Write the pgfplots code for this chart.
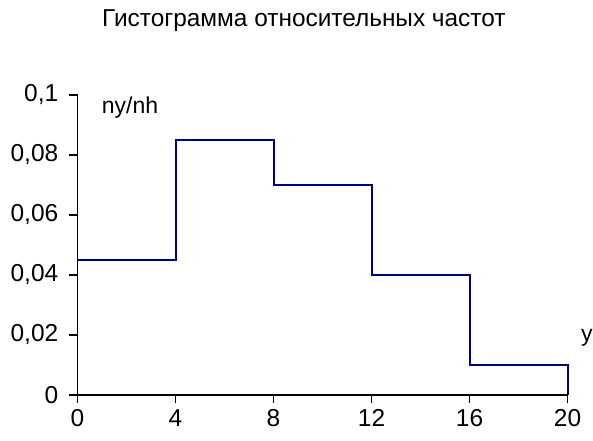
\documentclass[border=0pt]{standalone}
\usepackage{pgfplots}
\pgfplotsset{compat=1.18}
\usepackage{fontspec}
\setmainfont{Liberation Sans}
\definecolor{navyline}{RGB}{0,0,128}
\begin{document}
\fontsize{24}{28}\selectfont
\begin{tikzpicture}
\begin{axis}[
	name=ax,
	scale only axis,
	width=490pt,
	height=300pt,
	xmin=0, xmax=20,
	ymin=0, ymax=0.1,
	axis x line*=bottom,
	axis y line*=left,
	axis line style={line width=1.5pt, black, -},
	xtick={0,4,...,20},
	ytick={0,0.02,...,0.1},
	xtick align=outside,
	ytick align=outside,
	xtick pos=bottom,
	ytick pos=left,
	major tick length=8pt,
	every tick/.style={line width=1.2pt, black},
	/pgf/number format/assume math mode=true,
	/pgf/number format/use comma,
	/pgf/number format/fixed,
	/pgf/number format/precision=2,
	ticklabel style={font=\fontsize{24.5}{28}\selectfont},
	xticklabel style={yshift=-5pt, inner sep=1pt},
	yticklabel style={xshift=-3pt},
	title={Гистограмма относительных частот},
	title style={at={(0.462,1)}, anchor=base, yshift=63pt, font=\fontsize{24.4}{28}\selectfont},
	xlabel={y},
	xlabel style={at={(axis cs:20.55,0.0177)}, anchor=base west, inner sep=0pt, font=\fontsize{23}{27}\selectfont},
	clip=false]

	% relative frequency histogram
	\addplot[const plot, color=navyline, line width=2pt] coordinates{
		(0,0.045)
		(4,0.085)
		(8,0.07)
		(12,0.04)
		(16,0.01)
		(20,0.01)
		(20,0)};

	\node[anchor=base west, inner sep=0pt, font=\fontsize{23}{27}\selectfont] at (axis cs:0.99,0.094) {ny/nh};
\end{axis}
\pgfresetboundingbox
\useasboundingbox ([shift={(-77.5pt,-45pt)}]ax.south west) rectangle ([shift={(515.5pt,395pt)}]ax.south west);
\end{tikzpicture}
\end{document}
